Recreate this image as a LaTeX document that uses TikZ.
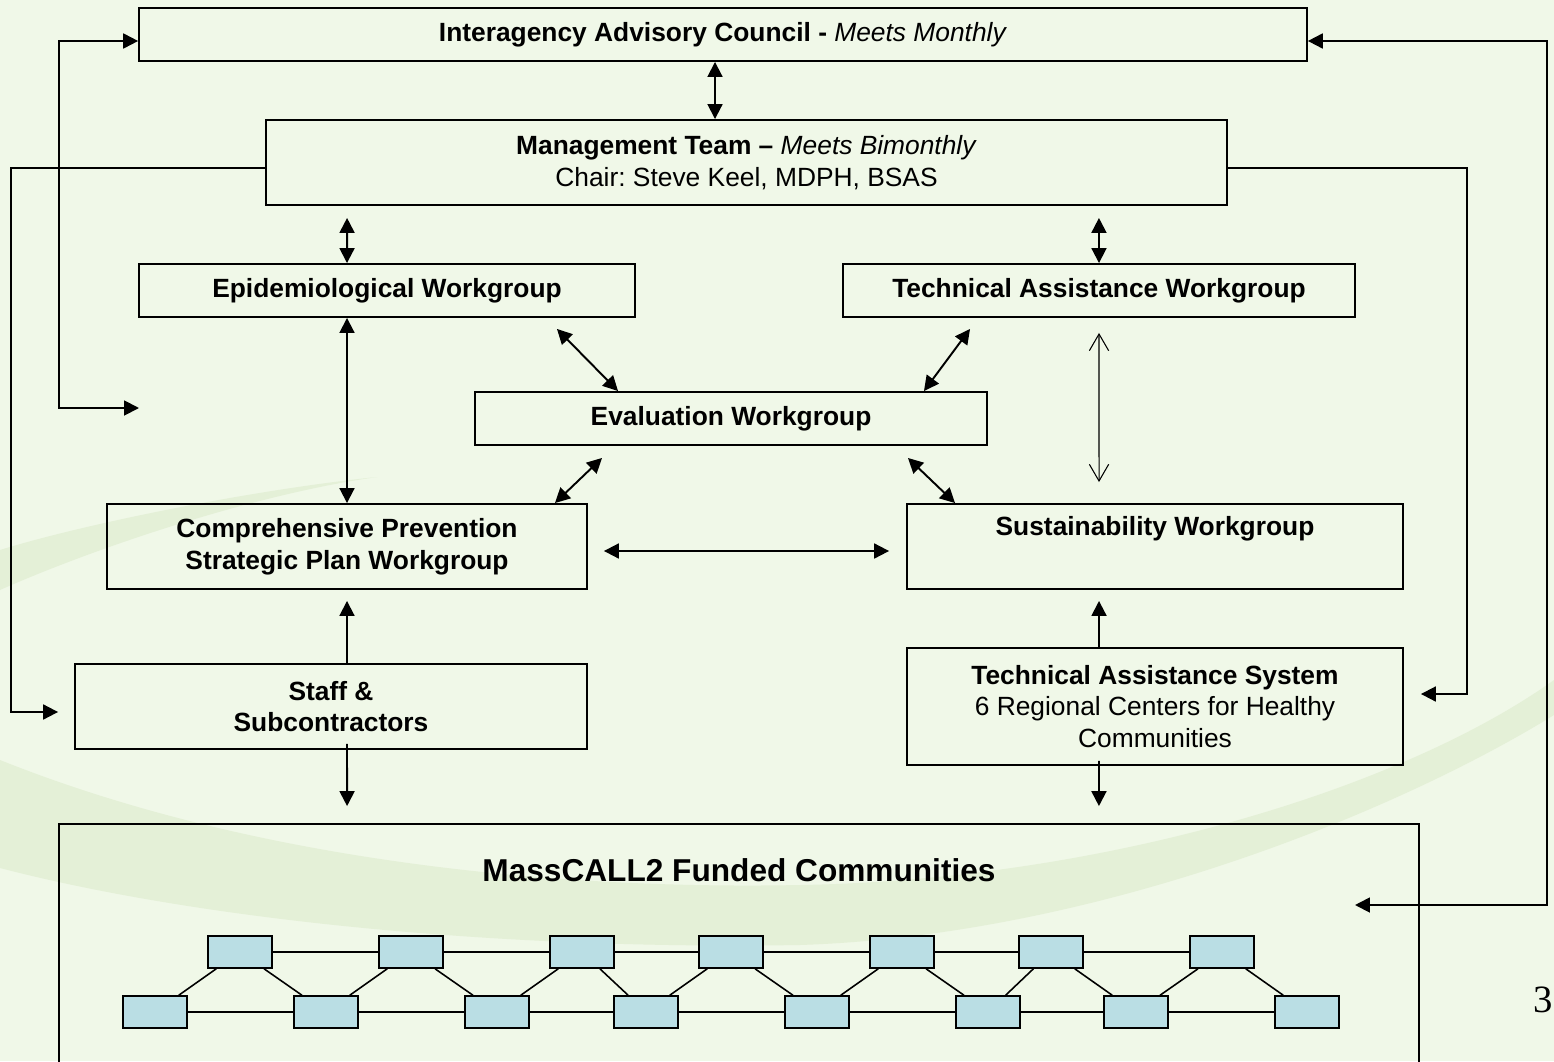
\documentclass[tikz,border=0pt]{standalone}
\usepackage{fontspec}
\setmainfont{Liberation Sans}
\newfontfamily\slidenumfont{Liberation Serif}
\usepackage{tikz}
\usetikzlibrary{arrows.meta}
\definecolor{slidecolor}{RGB}{240, 248, 232}
\definecolor{swooshcolor}{RGB}{228, 240, 215}
\definecolor{communitycolor}{RGB}{186, 222, 228}

\begin{document}
\frenchspacing
\begin{tikzpicture}[x=0.02cm, y=-0.02cm,
    box/.style={draw, line width=1.1pt, align=center, inner sep=0pt, font=\fontsize{15}{18}\selectfont},
    community/.style={draw, line width=0.9pt, fill=communitycolor, minimum width=1.28cm, minimum height=0.64cm, inner sep=0pt},
    net/.style={line width=0.9pt},
    link/.style={line width=1.1pt},
    twoway/.style={link, {Triangle[length=8.5pt,width=8.5pt]}-{Triangle[length=8.5pt,width=8.5pt]}},
    oneway/.style={link, -{Triangle[length=8.5pt,width=8.5pt]}},
    openway/.style={line width=0.6pt, {Straight Barb[length=9.5pt,width=11pt]}-{Straight Barb[length=9.5pt,width=11pt]}}]

    % Slide background
    \useasboundingbox (0,0) rectangle (1554,1061);
    \clip (0,0) rectangle (1554,1061);
    \fill[slidecolor] (0,0) rectangle (1554,1061);
    \fill[swooshcolor] (377,477) .. controls (250,490) and (80,525) .. (0,550) -- (0,590) .. controls (90,550) and (250,495) .. (377,477) -- cycle;
    \fill[swooshcolor] (0,760) .. controls (250,860) and (550,890) .. (800,885) .. controls (1100,880) and (1400,790) .. (1554,680) -- (1554,715) .. controls (1400,810) and (1100,935) .. (800,945) .. controls (500,950) and (200,920) .. (0,868) -- cycle;

    % Council and management team
    \node[box, minimum width=23.36cm, minimum height=1.06cm] (council) at (723,34.5) {\textbf{Interagency Advisory Council -} \textit{Meets Monthly}};
    \node[box, minimum width=19.22cm, minimum height=1.7cm] (mgmt) at (746.5,162.5) {\textbf{Management Team –} \textit{Meets Bimonthly}\\Chair: Steve Keel, MDPH, BSAS};

    % Workgroups
    \node[box, minimum width=9.92cm, minimum height=1.06cm] (epi) at (387,290.5) {\textbf{Epidemiological Workgroup}};
    \node[box, minimum width=10.24cm, minimum height=1.06cm] (tawg) at (1099,290.5) {\textbf{Technical Assistance Workgroup}};
    \node[box, minimum width=10.24cm, minimum height=1.06cm] (eval) at (731,418.5) {\textbf{Evaluation Workgroup}};
    \node[box, minimum width=9.6cm, minimum height=1.7cm] (cpsp) at (347,546.5) {\textbf{Comprehensive Prevention}\\\textbf{Strategic Plan Workgroup}};
    \node[box, minimum width=9.92cm, minimum height=1.7cm] (sust) at (1155,546.5) {\textbf{Sustainability Workgroup}\\\strut};

    % Staff and technical assistance
    \node[box, minimum width=10.24cm, minimum height=1.7cm] (staff) at (331,706.5) {\textbf{Staff \&}\\\textbf{Subcontractors}};
    \node[box, minimum width=9.92cm, minimum height=2.34cm] (tas) at (1155,706.5) {\textbf{Technical Assistance System}\\6 Regional Centers for Healthy\\Communities};

    % Funded communities
    \node[box, minimum width=27.2cm, minimum height=5.52cm] (funded) at (739,962) {};
    \node[font=\fontsize{18}{22}\selectfont\bfseries] (fundedtitle) at (739,870) {MassCALL2 Funded Communities};
    \foreach \x [count=\i from 0] in {240,411,582,731,902,1051,1222}
        \node[community] (top\i) at (\x,952) {};
    \foreach \x [count=\i from 0] in {155,326,497,646,817,988,1136,1307}
        \node[community] (bot\i) at (\x,1012) {};
    \foreach \i in {0,...,6} {
        \pgfmathtruncatemacro\j{\i+1}
        \draw[net] (bot\i) -- (bot\j);
        \draw[net] (top\i) -- (bot\i);
        \draw[net] (top\i) -- (bot\j);
    }
    \foreach \i in {0,...,5} {
        \pgfmathtruncatemacro\j{\i+1}
        \draw[net] (top\i) -- (top\j);
    }

    % Page number
    \node[anchor=west, inner sep=0pt, font=\slidenumfont\fontsize{22}{26}\selectfont] (pagenum) at (1533,1000) {3};

    % Links between boxes
    \draw[twoway] ([xshift=-0.16cm]council.south) -- ([xshift=-0.63cm]mgmt.north);
    \draw[twoway] ([xshift=-0.8cm]epi.north) -- ([shift={(-7.99cm,-0.24cm)}]mgmt.south);
    \draw[twoway] (tawg.north) -- ([shift={(7.05cm,-0.24cm)}]mgmt.south);
    \draw[twoway] (cpsp.north) -- ([xshift=-0.8cm]epi.south);
    \draw[twoway] ([shift={(3.4cm,-0.22cm)}]epi.south) -- ([xshift=-2.26cm]eval.north);
    \draw[twoway] ([shift={(-2.58cm,-0.22cm)}]tawg.south) -- ([xshift=3.86cm]eval.north);
    \draw[openway] ([yshift=-0.3cm]tawg.south) -- ([shift={(-1.12cm,0.42cm)}]sust.north);
    \draw[twoway] ([shift={(-2.58cm,-0.24cm)}]eval.south) -- ([xshift=4.16cm]cpsp.north);
    \draw[twoway] ([shift={(3.54cm,-0.24cm)}]eval.south) -- ([xshift=-4cm]sust.north);
    \draw[twoway] ([shift={(0.32cm,-0.09cm)}]cpsp.east) -- ([shift={(-0.34cm,-0.09cm)}]sust.west);
    \draw[oneway] ([xshift=0.32cm]staff.north) -- ([yshift=-0.22cm]cpsp.south);
    \draw[oneway] ([xshift=-1.12cm]tas.north) -- ([shift={(-1.12cm,-0.22cm)}]sust.south);
    \draw[oneway] ([shift={(0.32cm,0.12cm)}]staff.south) -- ([shift={(-7.84cm,0.34cm)}]funded.north);
    \draw[oneway] ([shift={(-1.12cm,0.1cm)}]tas.south) -- ([shift={(7.2cm,0.34cm)}]funded.north);

    % Outer feedback loops
    \coordinate (freeleft) at (139,408);
    \coordinate (freeright) at (1355,905);
    \draw[oneway] ([yshift=-0.11cm]mgmt.west) -| (11,400) |- ([shift={(-0.32cm,-0.11cm)}]staff.west);
    \draw[twoway] (freeleft) -| (59,200) |- ([yshift=-0.13cm]council.west);
    \draw[oneway] ([yshift=-0.11cm]mgmt.east) -| (1467,400) |- ([shift={(0.34cm,0.25cm)}]tas.east);
    \draw[twoway] (freeright) -| (1547,400) |- ([yshift=-0.13cm]council.east);

\end{tikzpicture}
\end{document}
